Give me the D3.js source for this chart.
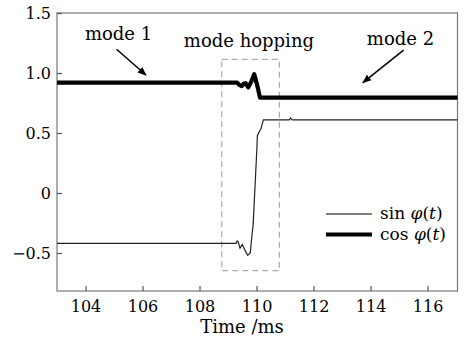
<!DOCTYPE html>
<html>
<head>
<meta charset="utf-8">
<script src="https://cdn.jsdelivr.net/npm/d3@7.9.0/dist/d3.min.js"></script>
<style>
  body { margin: 0; background: #fff; }
  svg text { font-family: "DejaVu Serif", "Liberation Serif", serif; fill: #000; }
</style>
</head>
<body>
<svg id="chart" width="466" height="340"></svg>
<script>
// time axis (ms) and signal values
const cosTime = [103, 109.32, 109.40, 109.48, 109.55, 109.62, 109.71, 109.82, 109.92, 110.0, 110.05, 110.12, 117.05];
const cosValue = [0.92, 0.92, 0.90, 0.89, 0.91, 0.915, 0.88, 0.93, 0.99, 0.92, 0.87, 0.795, 0.795];

const sinTime = [103, 109.28, 109.32, 109.36, 109.42, 109.50, 109.58, 109.69, 109.78, 109.84, 109.88,
                 110.01, 110.03, 110.16, 110.24, 111.15, 111.2, 111.25, 117.05];
const sinValue = [-0.42, -0.42, -0.40, -0.41, -0.46, -0.43, -0.47, -0.52, -0.50, -0.35, -0.27,
                  0.36, 0.48, 0.54, 0.61, 0.61, 0.625, 0.61, 0.61];

const xTicks = [104, 106, 108, 110, 112, 114, 116];
const yTicks = [1.5, 1.0, 0.5, 0, -0.5];
const yTickLabels = ['1.5', '1.0', '0.5', '0', '\u22120.5'];

// dashed "mode hopping" box: [t0, t1], [v0, v1]
const boxTime = [108.78, 110.8];
const boxValue = [-0.648, 1.114];

const annotations = [
  { text: 'mode 1', t: 103.98, v: 1.275 },
  { text: 'mode hopping', t: 107.45, v: 1.217 },
  { text: 'mode 2', t: 113.87, v: 1.233 }
];
const arrows = [
  { from: [105.09, 1.198], to: [106.12, 0.983] },
  { from: [115.16, 1.19], to: [113.73, 0.92] }
];

const width = 466, height = 340;
const margin = { top: 13, right: 8.5, bottom: 49, left: 57 };
const serif = '"DejaVu Serif", "Liberation Serif", serif';

const svg = d3.select('#chart');

let x = d3.scaleLinear().domain([103, 117.05]).range([margin.left, width - margin.right]);
let y = d3.scaleLinear().domain([-0.817, 1.5]).range([height - margin.bottom, margin.top]);

svg.append('defs').append('marker')
    .attr('id', 'head')
    .attr('viewBox', '0 0 10 10')
    .attr('refX', 9).attr('refY', 5)
    .attr('markerWidth', 9).attr('markerHeight', 9)
    .attr('markerUnits', 'userSpaceOnUse')
    .attr('orient', 'auto')
    .append('path')
    .attr('d', 'M0,1 L10,5 L0,9 Z')
    .attr('fill', '#000');

// frame
svg.append('rect')
    .attr('x', x.range()[0]).attr('y', y.range()[1])
    .attr('width', x.range()[1] - x.range()[0])
    .attr('height', y.range()[0] - y.range()[1])
    .attr('fill', 'none').attr('stroke', '#777').attr('stroke-width', 1.2);

// inward ticks
let xAxis = svg.append('g')
    .attr('transform', `translate(0,${y.range()[0]})`)
    .call(d3.axisBottom(x).tickValues(xTicks).tickSizeInner(-5).tickSizeOuter(0).tickPadding(10).tickFormat(d3.format('d')));
let yAxis = svg.append('g')
    .attr('transform', `translate(${x.range()[0]},0)`)
    .call(d3.axisLeft(y).tickValues(yTicks).tickSizeInner(-5).tickSizeOuter(0).tickPadding(6)
        .tickFormat((d, i) => yTickLabels[i]));

[xAxis, yAxis].forEach(g => {
    g.attr('font-family', serif);
    g.select('.domain').remove();
    g.selectAll('.tick line').attr('stroke', '#555').attr('stroke-width', 1.2);
    g.selectAll('.tick text').attr('font-size', 16);
});

svg.append('text')
    .attr('x', 242)
    .attr('y', 333)
    .attr('text-anchor', 'middle')
    .attr('font-size', 18)
    .text('Time /ms');

// dashed box
svg.append('rect')
    .attr('x', x(boxTime[0])).attr('y', y(boxValue[1]))
    .attr('width', x(boxTime[1]) - x(boxTime[0]))
    .attr('height', y(boxValue[0]) - y(boxValue[1]))
    .attr('fill', 'none').attr('stroke', '#aaa').attr('stroke-width', 1.2)
    .attr('stroke-dasharray', '6,4');

let line = d3.line().x(d => x(d[0])).y(d => y(d[1]));

svg.append('path')
    .datum(sinTime.map((t, i) => [t, sinValue[i]]))
    .attr('d', line)
    .attr('fill', 'none').attr('stroke', '#222').attr('stroke-width', 1.2);

svg.append('path')
    .datum(cosTime.map((t, i) => [t, cosValue[i]]))
    .attr('d', line)
    .attr('fill', 'none').attr('stroke', '#000').attr('stroke-width', 4.2)
    .attr('stroke-linejoin', 'round');

annotations.forEach(a => {
    svg.append('text')
        .attr('x', x(a.t)).attr('y', y(a.v))
        .attr('font-size', 18)
        .text(a.text);
});

arrows.forEach(a => {
    svg.append('line')
        .attr('x1', x(a.from[0])).attr('y1', y(a.from[1]))
        .attr('x2', x(a.to[0])).attr('y2', y(a.to[1]))
        .attr('stroke', '#000').attr('stroke-width', 1.5)
        .attr('marker-end', 'url(#head)');
});

// legend
const legendItems = [
  { name: 'sin ', w: 1.2, ly: 214 },
  { name: 'cos ', w: 4.2, ly: 234.5 }
];
let legend = svg.append('g');
legendItems.forEach(d => {
    legend.append('line')
        .attr('x1', 326).attr('x2', 372)
        .attr('y1', d.ly).attr('y2', d.ly)
        .attr('stroke', '#000').attr('stroke-width', d.w);
    let t = legend.append('text')
        .attr('x', 380).attr('y', d.ly + 5)
        .attr('font-size', 17);
    t.append('tspan').text(d.name);
    t.append('tspan').attr('font-style', 'italic').text('\u03c6');
    t.append('tspan').text('(');
    t.append('tspan').attr('font-style', 'italic').text('t');
    t.append('tspan').text(')');
});
</script>
</body>
</html>
